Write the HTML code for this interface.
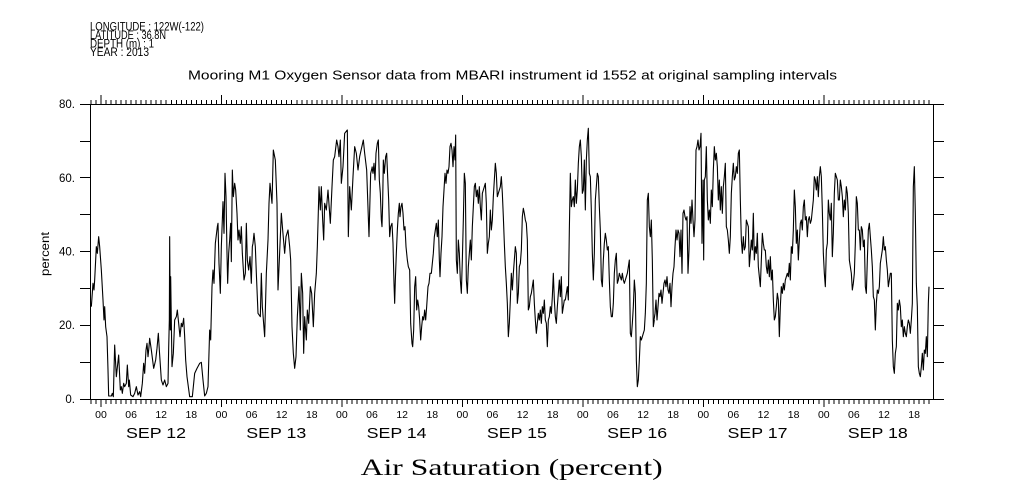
<!DOCTYPE html>
<html><head><meta charset="utf-8"><style>
html,body{margin:0;padding:0;background:#fff;}
svg{display:block;}
text{font-family:"Liberation Sans",sans-serif;fill:#000;}
</style></head><body>
<svg width="1009" height="504" viewBox="0 0 1009 504" xmlns="http://www.w3.org/2000/svg">
<rect x="0" y="0" width="1009" height="504" fill="#fff"/>

<!-- header -->
<g font-size="11.5">
<text x="90" y="30.5" textLength="114" lengthAdjust="spacingAndGlyphs">LONGITUDE : 122W(-122)</text>
<text x="90" y="39" textLength="76" lengthAdjust="spacingAndGlyphs">LATITUDE : 36.8N</text>
<text x="90" y="47.5" textLength="64" lengthAdjust="spacingAndGlyphs">DEPTH (m) : 1</text>
<text x="90" y="56" textLength="59" lengthAdjust="spacingAndGlyphs">YEAR : 2013</text>
</g>
<text x="512.5" y="79.5" font-size="12.5" text-anchor="middle" textLength="649" lengthAdjust="spacingAndGlyphs">Mooring M1 Oxygen Sensor data from MBARI instrument id 1552 at original sampling intervals</text>

<!-- axes box -->
<g stroke="#000" stroke-width="1" fill="none" shape-rendering="crispEdges">
<line x1="80" y1="104.5" x2="944" y2="104.5"/>
<line x1="80" y1="399.5" x2="944" y2="399.5"/>
<line x1="90.5" y1="104" x2="90.5" y2="400"/>
<line x1="933.5" y1="104" x2="933.5" y2="400"/>
<line x1="80" y1="362.5" x2="90" y2="362.5"/>
<line x1="80" y1="325.5" x2="90" y2="325.5"/>
<line x1="80" y1="288.5" x2="90" y2="288.5"/>
<line x1="80" y1="251.5" x2="90" y2="251.5"/>
<line x1="80" y1="214.5" x2="90" y2="214.5"/>
<line x1="80" y1="177.5" x2="90" y2="177.5"/>
<line x1="80" y1="141.5" x2="90" y2="141.5"/>
<line x1="934" y1="362.5" x2="944" y2="362.5"/>
<line x1="934" y1="325.5" x2="944" y2="325.5"/>
<line x1="934" y1="288.5" x2="944" y2="288.5"/>
<line x1="934" y1="251.5" x2="944" y2="251.5"/>
<line x1="934" y1="214.5" x2="944" y2="214.5"/>
<line x1="934" y1="177.5" x2="944" y2="177.5"/>
<line x1="934" y1="141.5" x2="944" y2="141.5"/>
</g>
<!-- hourly minor ticks -->
<g stroke="#000" fill="none" shape-rendering="crispEdges">
<line x1="90.46" y1="102" x2="933" y2="102" stroke-width="4" stroke-dasharray="1 4.0193"/>
<line x1="90.46" y1="401.5" x2="933" y2="401.5" stroke-width="5" stroke-dasharray="1 4.0193"/>
</g>
<!-- day major ticks -->
<g stroke="#000" stroke-width="1" shape-rendering="crispEdges">
<line x1="101" y1="95" x2="101" y2="104"/><line x1="101" y1="400" x2="101" y2="407"/>
<line x1="221.5" y1="95" x2="221.5" y2="104"/><line x1="221.5" y1="400" x2="221.5" y2="407"/>
<line x1="342" y1="95" x2="342" y2="104"/><line x1="342" y1="400" x2="342" y2="407"/>
<line x1="462.5" y1="95" x2="462.5" y2="104"/><line x1="462.5" y1="400" x2="462.5" y2="407"/>
<line x1="583" y1="95" x2="583" y2="104"/><line x1="583" y1="400" x2="583" y2="407"/>
<line x1="703.5" y1="95" x2="703.5" y2="104"/><line x1="703.5" y1="400" x2="703.5" y2="407"/>
<line x1="824" y1="95" x2="824" y2="104"/><line x1="824" y1="400" x2="824" y2="407"/>
</g>

<!-- y labels -->
<g font-size="11.5" text-anchor="end">
<text x="75" y="403">0.</text>
<text x="75" y="329">20.</text>
<text x="75" y="255.5">40.</text>
<text x="75" y="182">60.</text>
<text x="75" y="108">80.</text>
</g>
<text transform="translate(49 254) rotate(-90)" font-size="11.5" text-anchor="middle" textLength="44" lengthAdjust="spacingAndGlyphs">percent</text>

<!-- hour labels -->
<g font-size="10.5" text-anchor="middle">
<text x="101" y="418">00</text><text x="131.1" y="418">06</text><text x="161.2" y="418">12</text><text x="191.3" y="418">18</text>
<text x="221.5" y="418">00</text><text x="251.6" y="418">06</text><text x="281.7" y="418">12</text><text x="311.8" y="418">18</text>
<text x="341.9" y="418">00</text><text x="372" y="418">06</text><text x="402.2" y="418">12</text><text x="432.3" y="418">18</text>
<text x="462.4" y="418">00</text><text x="492.5" y="418">06</text><text x="522.6" y="418">12</text><text x="552.7" y="418">18</text>
<text x="582.8" y="418">00</text><text x="613" y="418">06</text><text x="643.1" y="418">12</text><text x="673.2" y="418">18</text>
<text x="703.3" y="418">00</text><text x="733.4" y="418">06</text><text x="763.5" y="418">12</text><text x="793.6" y="418">18</text>
<text x="823.8" y="418">00</text><text x="853.9" y="418">06</text><text x="884" y="418">12</text><text x="914.1" y="418">18</text>
</g>
<!-- day labels -->
<g font-size="15" text-anchor="middle">
<text x="156" y="438" textLength="60" lengthAdjust="spacingAndGlyphs">SEP 12</text>
<text x="276.3" y="438" textLength="60" lengthAdjust="spacingAndGlyphs">SEP 13</text>
<text x="396.6" y="438" textLength="60" lengthAdjust="spacingAndGlyphs">SEP 14</text>
<text x="516.9" y="438" textLength="60" lengthAdjust="spacingAndGlyphs">SEP 15</text>
<text x="637.2" y="438" textLength="60" lengthAdjust="spacingAndGlyphs">SEP 16</text>
<text x="757.5" y="438" textLength="60" lengthAdjust="spacingAndGlyphs">SEP 17</text>
<text x="877.8" y="438" textLength="60" lengthAdjust="spacingAndGlyphs">SEP 18</text>
</g>

<text x="511.7" y="475" font-size="23" text-anchor="middle" textLength="302" lengthAdjust="spacingAndGlyphs" style="font-family:'Liberation Serif',serif">Air Saturation (percent)</text>

<!-- data series -->
<g fill="none" stroke="#000" stroke-width="3.3" stroke-linejoin="round">
<polyline transform="translate(88 120) scale(0.333333)" points="10,560 15,490 18,510 20,480 25,380 28,400 32,350 35,380 40,450 45,540 48,600 50,560 53,620 57,650 60,750 62,828 70,828 73,820 76,830 80,675 85,770 92,705 97,810 100,800 103,820 107,790 110,800 115,790 118,735 122,800 124,780 128,825 135,830 140,820 145,800 150,825 155,815 158,830 163,790 167,730 170,760 174,690 177,670 180,710 183,680 185,655 190,690 197,745 203,720 207,685 211,640 214,690 220,780 225,795 230,780 235,800 240,790 242,685 244,600 245,350 247,630 248,470 252,740 256,700 260,600 265,590 268,570 272,610 276,650 280,610 283,620 287,595 290,650 293,720 297,770 305,830 313,830 320,760 327,745 335,730 340,727 345,780 350,828 355,820 360,800 365,630 368,660 372,500 375,450 378,490 382,370 388,320 390,310 393,430 397,520 400,380 403,300 405,245 408,340 411,160 414,230 417,400 419,490 422,400 425,360 428,310 430,425 433,150 436,230 440,190 443,210 447,280 450,360 453,330 457,370 460,320 463,400 468,480 472,460 475,310 478,420 482,450 486,410 490,490 493,380 495,370 498,340 502,380 505,460 510,580 517,590 520,460 523,560 530,650 535,460 540,360 543,250 546,190 549,220 552,250 556,90 558,100 562,120 567,250 570,510 574,420 580,280 584,330 590,400 594,350 600,330 605,380 608,420 612,620 616,700 620,745 624,710 628,590 633,500 637,630 640,460 644,520 647,700 650,590 655,660 658,570 662,610 667,500 671,520 676,620 680,520 685,460 688,380 690,310 693,200 697,270 700,200 704,300 707,360 710,250 715,270 720,210 727,310 732,200 736,120 740,110 746,60 750,80 753,110 757,60 760,190 765,140 770,40 778,30 781,350 785,200 790,270 795,170 800,80 805,100 810,150 815,110 826,60 830,100 836,150 843,350 848,160 853,140"/>
<polyline transform="translate(370 120) scale(0.333333)" points="6,140 9,160 12,130 15,180 18,100 22,70 25,60 28,180 31,220 34,300 36,320 38,250 40,120 43,160 47,110 50,100 53,170 56,240 59,350 62,320 66,310 69,370 72,490 74,550 76,480 79,400 82,330 85,280 88,250 90,290 93,260 96,250 99,280 102,330 105,320 108,380 112,420 115,440 119,450 122,610 126,670 128,680 131,630 134,500 137,470 140,570 143,540 146,560 149,600 152,660 155,620 158,590 161,600 164,570 167,600 170,560 174,500 177,490 180,460 184,460 187,430 190,400 193,350 196,330 199,310 202,350 205,300 208,420 210,470 213,400 216,350 219,260 222,210 225,160 228,190 231,150 234,160 237,140 240,80 243,70 246,90 249,140 252,80 255,120 257,45 259,420 262,460 265,360 268,400 271,480 274,520 277,420 280,300 283,160 286,190 289,480 292,520 295,440 298,400 301,360 304,420 307,320 310,260 313,200 316,190 319,230 322,210 325,250 328,200 331,260 334,300 337,220 340,210 343,200 346,190 349,250 352,400 355,370 358,350 361,270 364,330 367,300 370,230 373,180 376,130 379,160 382,230 385,220 388,210 391,200 394,170 397,220 400,290 403,370 406,440 409,490 412,550 415,650 418,610 421,540 424,460 427,510 430,460 433,420 436,380 439,400 442,550 445,520 448,440 451,430 454,390 457,290 460,265 463,280 466,300 469,310 472,360 475,570 478,560 481,530 484,520 487,500 490,480 493,550 496,600 499,640 502,610 505,580 508,600 511,570 514,610 517,560 520,580 523,540 526,600 529,610 532,680 535,600 538,590 541,560 544,580 547,530 550,460 553,540 556,590 559,610 562,560 565,520 568,480 571,530 574,470 577,580 580,560 583,540 586,540 589,520 592,500 595,540 598,330 601,160 604,260 607,240 610,230 613,260 616,180 619,250 622,210 625,130 628,80 631,60 634,110 637,220 640,210 643,120 646,270 649,120 652,60 655,25 658,160 661,170 664,270 667,400 670,480 673,400 676,240 679,200 682,160 685,170 688,260 691,330 694,480 697,500 700,420 703,370 706,340 709,360 712,390 715,380 718,480 721,560 724,590 727,590 730,550 733,460 736,420 739,400 742,490 745,480 748,460 751,470 754,480 757,460 760,480 763,490 766,480 769,470 772,460 775,440 778,420 781,640 784,650 787,610 790,560 793,480 796,520 799,720 802,800 805,780 808,720 811,650 814,660 817,650 820,640 823,630 826,580 829,490 832,240 835,220 838,320 841,350 844,300 847,420 850,620 853,600"/>
<polyline transform="translate(650 120) scale(0.333333)" points="12,600 15,580 18,540 21,600 24,560 27,520 30,530 33,510 36,550 39,520 42,490 45,480 48,500 51,470 54,510 57,520 60,490 63,560 66,500 69,460 72,440 75,380 78,330 81,360 84,330 87,340 90,410 93,330 96,460 99,280 102,270 105,290 108,300 111,290 114,460 117,390 120,260 123,310 126,240 129,300 132,350 135,300 138,90 141,80 144,60 147,90 150,80 153,40 156,370 159,180 161,420 163,180 166,170 169,80 172,240 175,300 178,270 181,310 184,210 187,260 190,150 193,80 196,120 199,100 202,140 205,240 208,180 211,270 214,200 217,280 220,200 223,170 226,130 229,320 232,330 235,360 238,400 241,350 244,220 247,170 250,130 253,180 256,170 259,140 262,160 265,100 268,90 271,240 274,360 277,400 280,350 283,390 286,380 289,300 292,310 295,320 298,440 301,400 304,360 307,390 310,280 313,420 316,380 319,400 322,340 325,440 328,470 331,500 334,420 337,340 340,370 343,390 346,390 349,440 352,460 355,420 358,470 361,410 364,480 367,450 370,540 373,600 376,590 379,560 382,520 385,540 388,650 391,560 394,500 397,520 400,490 403,510 406,480 409,470 412,460 415,470 418,430 421,480 424,380 427,400 430,330 433,210 436,260 439,370 442,330 445,420 448,360 451,310 454,300 457,330 460,260 463,240 466,300 469,290 472,350 475,300 478,290 481,310 484,300 487,270 490,240 493,170 496,180 499,210 502,170 505,230 508,170 511,140 514,170 517,270 520,400 523,460 526,500 529,390 532,370 535,240 538,280 541,300 544,250 547,410 550,340 553,220 556,160 559,170 562,180 565,240 568,240 571,180 574,200 577,230 580,290 583,240 586,270 589,200 592,220 595,280 598,420 601,440 604,460 607,510 610,490 613,460 616,370 619,230 622,250 625,330 628,330 631,390 634,320 637,330 640,380 643,360 646,500 649,520 652,420 655,330 658,310 661,350 664,390 667,440 670,530 673,540 676,630 679,550 682,510 685,520 688,500 691,430 694,410 697,390 700,350 703,390 706,380 709,420 712,450 715,500 718,480 721,460 724,460 727,660 730,740 733,760 736,700 739,680 742,550 745,570 748,540 751,560 754,620 757,600 760,650 763,620 766,640 769,650 772,620 775,600 778,610 781,640 784,600 787,550 790,200 793,140 796,280 799,490 802,560 805,740 808,760 811,770 814,740 817,700 820,750 823,690 826,700 829,650 832,710 835,550 837,500"/>
</g>
</svg>
</body></html>
